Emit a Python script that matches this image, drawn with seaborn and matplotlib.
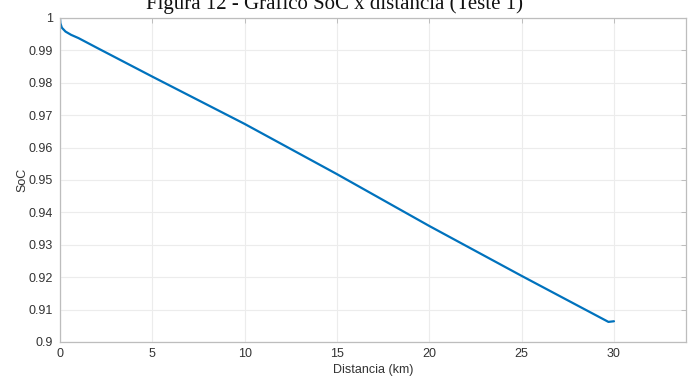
import matplotlib
matplotlib.use("Agg")
import matplotlib.pyplot as plt
import seaborn as sns
import pandas as pd

distancia_km = [0.0, 0.02, 0.1, 0.3, 0.6, 1.0, 2.0, 5.0, 10.0, 15.0, 20.0, 25.0, 29.7, 30.0]
soc = [1.0, 0.9984, 0.9970, 0.9958, 0.9948, 0.9938, 0.9908, 0.9819, 0.9673, 0.9518, 0.9358, 0.9204, 0.9062, 0.9064]
x_ticks = [0, 5, 10, 15, 20, 25, 30]
y_ticks = [0.9, 0.91, 0.92, 0.93, 0.94, 0.95, 0.96, 0.97, 0.98, 0.99, 1.0]
y_tick_labels = ["0.9", "0.91", "0.92", "0.93", "0.94", "0.95", "0.96", "0.97", "0.98", "0.99", "1"]
title = "Figura 12 - Gráfico SoC x distância (Teste 1)"

df = pd.DataFrame({"Distancia (km)": distancia_km, "SoC": soc})

sns.set_style("white")
plt.rcParams["font.family"] = ["Liberation Sans", "DejaVu Sans"]

fig = plt.figure(figsize=(6.92, 3.81), dpi=100)
ax = fig.add_axes([0.0867, 0.1024, 0.9046, 0.8504])

sns.lineplot(data=df, x="Distancia (km)", y="SoC", ax=ax, color="#0072BD", linewidth=1.6)

ax.set_xlim(0, 33.9)
ax.set_ylim(0.9, 1.0)
ax.set_xticks(x_ticks)
ax.set_yticks(y_ticks)
ax.set_yticklabels(y_tick_labels)
ax.grid(True, color="#ececec", linewidth=0.8)
ax.set_axisbelow(True)

for s in ax.spines.values():
    s.set_visible(True)
    s.set_color("#bdbdbd")
    s.set_linewidth(0.9)

ax.tick_params(axis="both", direction="in", length=3.5, width=0.7, color="#bdbdbd",
               labelsize=9, labelcolor="#333333", top=True, right=True)
ax.tick_params(axis="y", pad=5)
ax.tick_params(axis="x", pad=4)
ax.set_xlabel("Distancia (km)", fontsize=9, color="#333333", labelpad=3)
ax.set_ylabel("SoC", fontsize=9, color="#333333", labelpad=0)

fig.text(0.483, 0.976, title, ha="center", va="baseline",
         family=["Liberation Serif", "DejaVu Serif"], fontsize=15, color="#111111")

fig.savefig("out.png", dpi=100, facecolor="white")
